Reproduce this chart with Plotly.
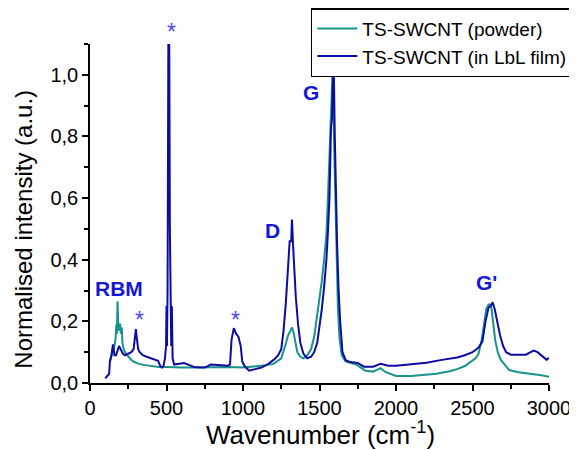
import plotly.graph_objects as go

# ---- data ----
lbl_x = [100, 110, 125, 130, 140, 150, 155, 160, 170, 180, 190, 200, 215, 230, 250, 270, 285, 295, 300, 305,
         315, 325, 345, 370, 400, 430, 445, 460, 470, 480, 490, 497, 500, 503, 507, 512, 518, 522, 527, 531,
         535, 540, 550, 580, 615, 650, 680, 720, 750, 790, 820, 860, 900, 915, 925, 940, 955, 970, 985, 995,
         1010, 1040, 1080, 1120, 1160, 1200, 1230, 1250, 1265, 1280, 1295, 1305, 1315, 1320, 1327, 1335, 1345,
         1360, 1375, 1395, 1420, 1445, 1465, 1485, 1500, 1515, 1530, 1545, 1555, 1565, 1575, 1582, 1588, 1594,
         1600, 1607, 1615, 1625, 1635, 1650, 1670, 1700, 1750, 1790, 1850, 1900, 1950, 2000, 2100, 2200, 2300,
         2400, 2450, 2500, 2540, 2565, 2585, 2605, 2620, 2632, 2645, 2660, 2680, 2700, 2720, 2750, 2800, 2850,
         2880, 2900, 2925, 2950, 2970, 2985, 3000]
lbl_y = [0.015, 0.02, 0.03, 0.07, 0.09, 0.125, 0.10, 0.09, 0.09, 0.11, 0.12, 0.11, 0.095, 0.09, 0.095, 0.10,
         0.11, 0.15, 0.175, 0.15, 0.11, 0.10, 0.09, 0.085, 0.08, 0.075, 0.072, 0.055, 0.05, 0.055, 0.08, 0.12,
         0.25, 0.12, 0.30, 1.10, 1.10, 0.50, 0.25, 0.12, 0.25, 0.08, 0.06, 0.062, 0.065, 0.058, 0.052, 0.05,
         0.05, 0.06, 0.06, 0.058, 0.056, 0.06, 0.14, 0.178, 0.16, 0.15, 0.12, 0.07, 0.055, 0.04, 0.045, 0.05,
         0.06, 0.075, 0.09, 0.11, 0.17, 0.26, 0.38, 0.46, 0.46, 0.53, 0.45, 0.36, 0.28, 0.19, 0.13, 0.095, 0.08,
         0.085, 0.10, 0.13, 0.18, 0.24, 0.31, 0.40, 0.49, 0.60, 0.83, 0.86, 1.0, 1.0, 0.80, 0.62, 0.45, 0.30,
         0.20, 0.10, 0.075, 0.068, 0.065, 0.053, 0.053, 0.062, 0.056, 0.056, 0.062, 0.066, 0.075, 0.083, 0.09,
         0.10, 0.115, 0.135, 0.20, 0.245, 0.25, 0.262, 0.24, 0.20, 0.155, 0.12, 0.10, 0.092, 0.092, 0.092, 0.10,
         0.105, 0.10, 0.09, 0.08, 0.075, 0.082]

powder_x = [130, 140, 150, 160, 168, 172, 176, 180, 184, 188, 192, 197, 202, 208, 212, 220, 235, 250, 270, 290,
            320, 360, 400, 450, 500, 550, 600, 700, 800, 900, 1000, 1050, 1100, 1150, 1200, 1250, 1275, 1295,
            1310, 1320, 1330, 1340, 1355, 1375, 1395, 1420, 1445, 1465, 1480, 1500, 1515, 1530, 1545, 1555, 1565,
            1572, 1580, 1585, 1590, 1597, 1605, 1612, 1620, 1630, 1645, 1670, 1700, 1740, 1770, 1800, 1850, 1880,
            1900, 1930, 1970, 2000, 2100, 2200, 2265, 2350, 2400, 2450, 2490, 2520, 2540, 2560, 2575, 2590, 2605,
            2615, 2625, 2635, 2648, 2665, 2685, 2705, 2740, 2800, 2880, 2950, 3000]
powder_y = [0.07, 0.085, 0.10, 0.12, 0.15, 0.19, 0.16, 0.265, 0.20, 0.17, 0.19, 0.19, 0.16, 0.18, 0.13, 0.11,
            0.095, 0.085, 0.075, 0.068, 0.062, 0.058, 0.055, 0.052, 0.052, 0.05, 0.05, 0.05, 0.052, 0.052, 0.05,
            0.052, 0.054, 0.058, 0.062, 0.08, 0.12, 0.155, 0.17, 0.18, 0.165, 0.14, 0.10, 0.085, 0.08, 0.09, 0.11,
            0.15, 0.20, 0.27, 0.33, 0.40, 0.48, 0.60, 0.72, 0.86, 0.95, 1.0, 0.90, 0.75, 0.52, 0.40, 0.25, 0.15,
            0.09, 0.07, 0.066, 0.06, 0.05, 0.04, 0.037, 0.045, 0.048, 0.036, 0.028, 0.023, 0.023, 0.026, 0.03,
            0.038, 0.045, 0.055, 0.068, 0.08, 0.095, 0.14, 0.19, 0.24, 0.255, 0.255, 0.24, 0.20, 0.14, 0.10, 0.075,
            0.063, 0.042, 0.035, 0.03, 0.025, 0.02]

series_names = ["TS-SWCNT (powder)", "TS-SWCNT (in LbL film)"]
x_tick_vals = [0, 500, 1000, 1500, 2000, 2500, 3000]
y_tick_vals = [0.0, 0.2, 0.4, 0.6, 0.8, 1.0]
x_title = "Wavenumber (cm<sup>-1</sup>)"
y_title = "Normalised intensity (a.u.)"

# peak labels: text, x, y (data coordinates)
label_text = ["RBM", "D", "G", "G'"]
label_x = [190, 1193, 1444, 2593]
label_y = [0.306, 0.495, 0.943, 0.327]
# asterisks marking substrate peaks (y given in data units)
star_x = [532, 324, 950]
star_y = [1.138, 0.204, 0.204]

Y_MAX = 1.1
FONT = "Liberation Sans, Arial, sans-serif"
TEAL = "#17938B"
NAVY = "#0C0CA2"
LABEL_BLUE = "#1616D8"
STAR_BLUE = "#4848F4"

fig = go.Figure()
fig.add_trace(go.Scatter(x=powder_x, y=powder_y, mode="lines", name=series_names[0],
                         line=dict(color=TEAL, width=2)))
fig.add_trace(go.Scatter(x=lbl_x, y=lbl_y, mode="lines", name=series_names[1],
                         line=dict(color=NAVY, width=2)))

for t, x, y in zip(label_text, label_x, label_y):
    fig.add_annotation(x=x, y=y, text="<b>%s</b>" % t, showarrow=False,
                       font=dict(family=FONT, size=21, color=LABEL_BLUE))
for x, y in zip(star_x, star_y):
    # paper-referenced y so the star above the top of the axis is still drawn
    fig.add_annotation(x=x, y=y / Y_MAX, yref="paper", yanchor="middle", text="*", showarrow=False,
                       font=dict(family=FONT, size=23, color=STAR_BLUE))

# axis titles
fig.add_annotation(x=0.503, y=-0.148, xref="paper", yref="paper", xanchor="center", yanchor="middle",
                   text=x_title, showarrow=False, font=dict(family=FONT, size=26, color="black"))
fig.add_annotation(x=-0.144, y=0.455, xref="paper", yref="paper", xanchor="center", yanchor="middle",
                   textangle=-90, text=y_title, showarrow=False,
                   font=dict(family=FONT, size=24, color="black"))

fig.update_layout(
    width=577, height=450,
    margin=dict(l=82, r=36, t=36, b=75, autoexpand=False),
    paper_bgcolor="white", plot_bgcolor="white",
    separators=",.",
    font=dict(family=FONT, color="black"),
    showlegend=True,
    legend=dict(x=1.052, y=1.106, xanchor="right", yanchor="top",
                bordercolor="black", borderwidth=1.5, bgcolor="white",
                font=dict(family=FONT, size=19), tracegroupgap=0,
                itemwidth=40),
    xaxis=dict(range=[0, 3000], tickvals=x_tick_vals, ticks="outside", ticklen=6,
               tickwidth=1.5, tickcolor="black", showline=True, linecolor="black", linewidth=1.5,
               showgrid=False, zeroline=False, mirror=False, automargin=False,
               tickfont=dict(family=FONT, size=20, color="black"),
               minor=dict(dtick=250, ticks="outside", ticklen=4, tickcolor="black", tickwidth=1.5)),
    yaxis=dict(range=[0, Y_MAX], tickvals=y_tick_vals, tickformat=".1f", ticks="outside", ticklen=6,
               tickwidth=1.5, tickcolor="black", showline=True, linecolor="black", linewidth=1.5,
               showgrid=False, zeroline=False, mirror=False, automargin=False,
               tickfont=dict(family=FONT, size=20, color="black"),
               minor=dict(dtick=0.1, ticks="outside", ticklen=4, tickcolor="black", tickwidth=1.5)),
)

fig.write_html("out.html")
